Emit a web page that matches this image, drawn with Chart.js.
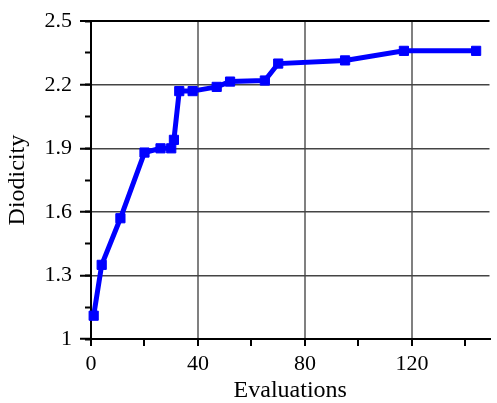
<!DOCTYPE html>
<html>
<head>
<meta charset="utf-8">
<script src="https://cdn.jsdelivr.net/npm/chart.js@4"></script>
<style>
  body { margin: 0; background: #fff; }
  #wrap { width: 497px; height: 403px; }
</style>
</head>
<body>
<div id="wrap"><canvas id="chart" width="497" height="403"></canvas></div>
<script>
/* ---------- data ---------- */
const evaluations = [1, 4, 11, 20, 26, 30, 31, 33, 38, 47, 52, 65, 70, 95, 117, 144];
const diodicity   = [1.11, 1.35, 1.57, 1.88, 1.90, 1.90, 1.94, 2.17, 2.17, 2.19, 2.215, 2.22, 2.30, 2.315, 2.36, 2.36];
const xTickLabels = ["0", "40", "80", "120"];
const yTickLabels = ["1", "1.3", "1.6", "1.9", "2.2", "2.5"];

const serif = "'Liberation Serif', 'Times New Roman', serif";
const points = evaluations.map((x, i) => ({ x: x, y: diodicity[i] }));

new Chart(document.getElementById("chart"), {
    type: "line",
    data: {
        datasets: [{
            data: points,
            borderColor: "#0000ff",
            backgroundColor: "#0000ff",
            borderWidth: 5,
            pointStyle: "rect",
            pointRadius: 6.5,
            pointBorderWidth: 1,
            tension: 0,
            clip: false
        }]
    },
    options: {
        responsive: false,
        animation: false,
        devicePixelRatio: 1,
        layout: { padding: { top: 18, right: 0, left: 0, bottom: 0 } },
        plugins: { legend: { display: false }, tooltip: { enabled: false } },
        scales: {
            x: {
                type: "linear",
                min: 0, max: 149,
                afterFit: s => { s.height = 64; },
                border: { display: true, color: "#000", width: 2 },
                grid: {
                    color: c => (c.tick && c.tick.value > 0 && c.tick.value % 40 === 0) ? "#808080" : "rgba(0,0,0,0)",
                    lineWidth: 2,
                    tickColor: "#000",
                    tickLength: 7,
                    tickWidth: 2
                },
                ticks: {
                    stepSize: 20,
                    includeBounds: false,
                    maxRotation: 0,
                    autoSkip: false,
                    padding: 5,
                    color: "#000",
                    font: { family: serif, size: 22 },
                    callback: v => xTickLabels.includes(String(v)) ? String(v) : ""
                },
                title: {
                    display: true,
                    text: "Evaluations",
                    color: "#000",
                    padding: 0,
                    font: { family: serif, size: 24, lineHeight: 1 }
                }
            },
            yMinor: {
                type: "linear",
                position: "left",
                weight: -1,
                min: 1, max: 2.5,
                afterFit: s => { s.width = 0; },
                border: { display: false },
                grid: {
                    drawOnChartArea: false,
                    tickColor: "#000",
                    tickLength: 6,
                    tickWidth: 2
                },
                ticks: { stepSize: 0.15, display: false }
            },
            y: {
                type: "linear",
                position: "left",
                min: 1, max: 2.5,
                afterFit: s => { s.width = 91; },
                border: { display: true, color: "#000", width: 2 },
                grid: {
                    color: c => {
                        if (!c.tick) return "rgba(0,0,0,0)";
                        const v = Math.round(c.tick.value * 10) / 10;
                        if (v === 2.5) return "#000";
                        if (v === 1) return "rgba(0,0,0,0)";
                        return "#444";
                    },
                    lineWidth: c => (c.tick && Math.round(c.tick.value * 10) === 25) ? 2 : 1.5,
                    tickColor: "#000",
                    tickLength: 11,
                    tickWidth: 2
                },
                ticks: {
                    stepSize: 0.3,
                    padding: 8,
                    color: "#000",
                    font: { family: serif, size: 22 },
                    callback: v => {
                        const s = String(Math.round(v * 10) / 10);
                        return yTickLabels.includes(s) ? s : "";
                    }
                },
                title: {
                    display: true,
                    text: "Diodicity",
                    color: "#000",
                    padding: { top: 6, bottom: 2 },
                    font: { family: serif, size: 24, lineHeight: 1 }
                }
            }
        }
    }
});
</script>
</body>
</html>
